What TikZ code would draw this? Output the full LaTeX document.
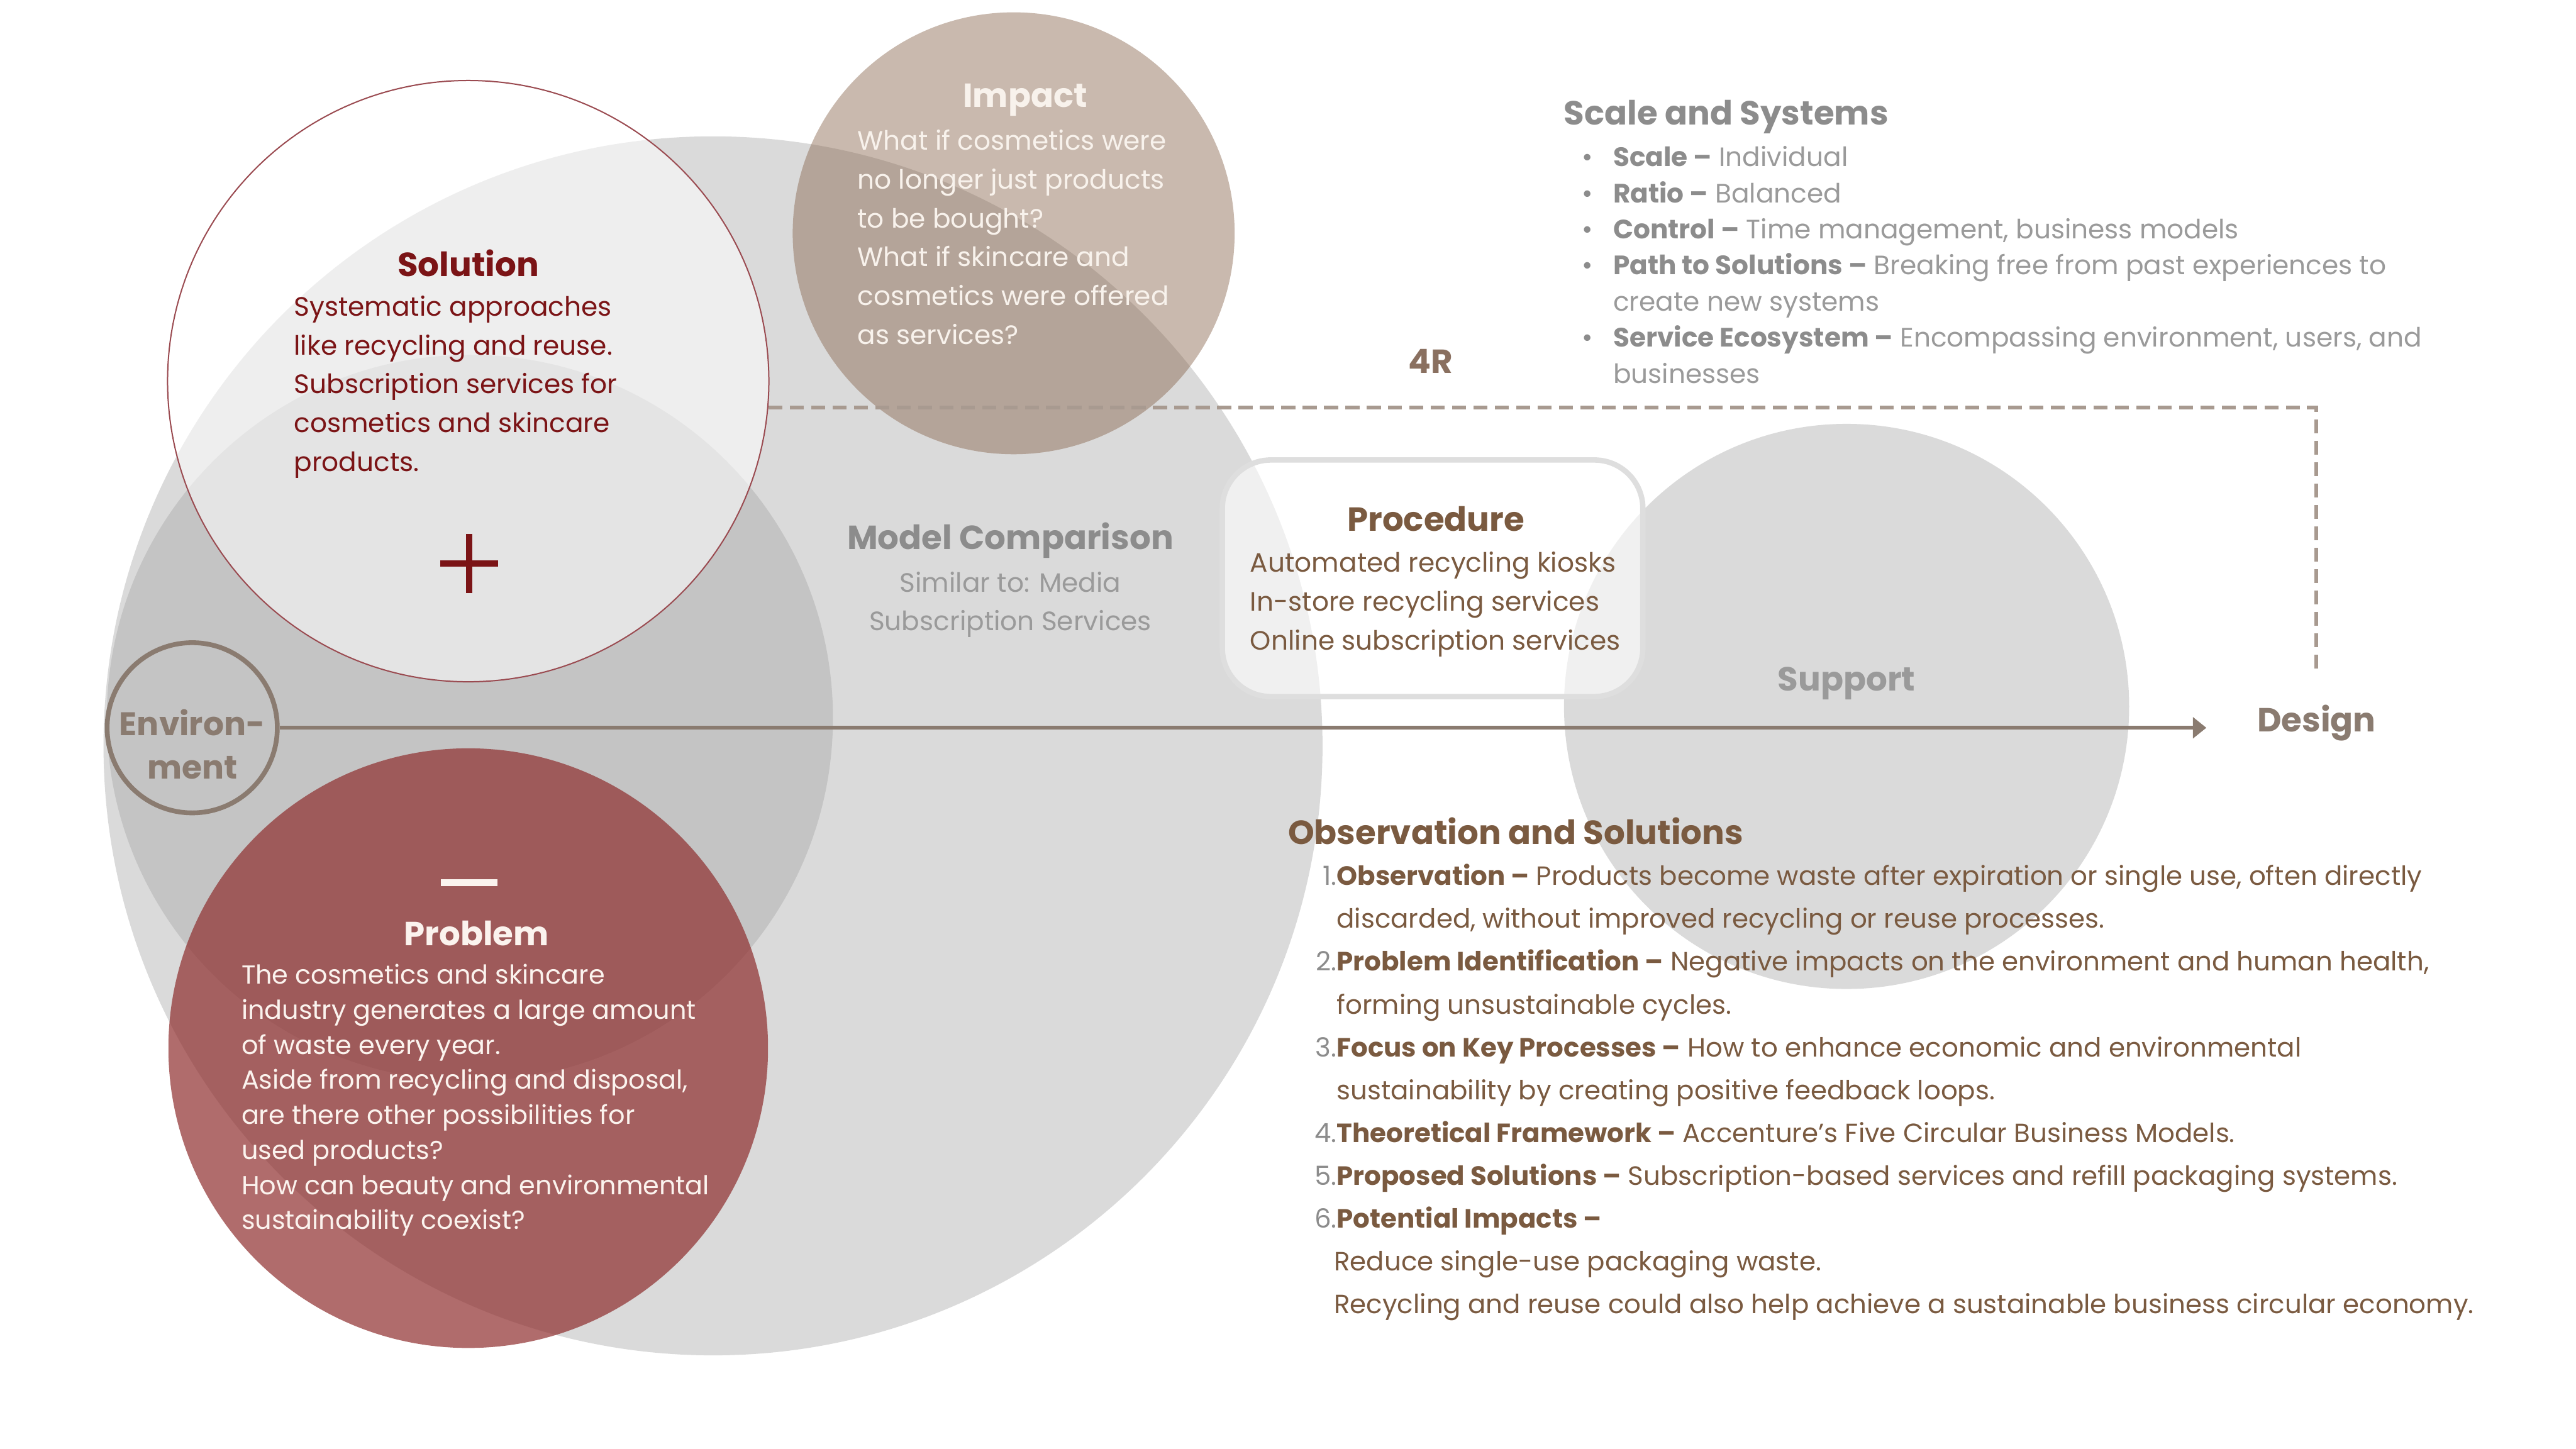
\documentclass[tikz,border=0pt]{standalone}
\usepackage{fontspec}
\setmainfont{Poppins}
\usetikzlibrary{arrows.meta}
\definecolor{lgray}{HTML}{DADADA}
\definecolor{mgray}{HTML}{C4C4C4}
\definecolor{tancol}{RGB}{135,100,75}
\definecolor{probcol}{RGB}{142,45,45}
\definecolor{solred}{HTML}{7B1416}
\definecolor{solborder}{HTML}{9A4A50}
\definecolor{envcol}{HTML}{8A7B70}
\definecolor{dashcol}{HTML}{A89A90}
\definecolor{browncol}{HTML}{7A5A40}
\definecolor{greyt}{HTML}{8C8C8C}
\definecolor{greyl}{HTML}{9A9A9A}
\definecolor{impt}{HTML}{F8F2EC}
\definecolor{probt}{HTML}{FBF3EE}
\definecolor{fourRcol}{HTML}{8A7060}
\definecolor{procborder}{HTML}{DEDEDE}
\newcommand\myfs[2]{\fontsize{#1}{#2}\selectfont}
\begin{document}
\begin{tikzpicture}[x=0.032143cm,y=-0.032143cm,
  disc/.style={circle,inner sep=0pt,minimum size=#1*0.032143cm},
  txt/.style={inner sep=0pt,outer sep=0pt},
  body/.style={txt,align=left,anchor=north west,font=\myfs{14.8}{21.6}},
  head/.style={txt,font=\bfseries\myfs{18.6}{22}},
  dashline/.style={dashcol,line width=2pt,dash pattern=on 7.8pt off 4.1pt},
  conn/.style={envcol,line width=2.1pt}
]
\useasboundingbox (0,0) rectangle (1568,882);
% background circles
\node[disc=742,fill=lgray] (bigc) at (434,454) {};
\node[disc=442,fill=mgray] (midc) at (286,437) {};
\node[disc=344,fill=lgray] (supc) at (1124,430) {};
\node[disc=269,fill=tancol,fill opacity=0.45] (impc) at (617,142) {};
\node[disc=366,fill=white,fill opacity=0.55,draw=solborder,line width=0.7pt] (solc) at (285,232) {};
\node[disc=365,fill=probcol,fill opacity=0.7] (probc) at (285,638) {};
\node[disc=103.6,draw=envcol,line width=2.65pt] (envc) at (117,443) {};
% connectors
\coordinate (arrend) at (1343,443);
\draw[conn,-{Triangle[length=7.5pt,width=11.5pt]}] (envc.east) -- (arrend);
\coordinate (dend) at (1410,410);
\draw[dashline] (solc.-5.2) -| (dend);
% procedure box
\node[draw=procborder,line width=3pt,fill=white,fill opacity=0.6,rounded corners=27pt,
  minimum width=256*0.032143cm,minimum height=144*0.032143cm,inner sep=0pt] (procbox) at (872,352) {};
% plus and minus
\draw[solred,line width=3.7pt] (268,343) -- (303,343) (285.5,325) -- (285.5,361);
\draw[probt,line width=4pt] (268.5,537.3) -- (302.7,537.3);
% texts
\node[head,text=impt] (impT) at (624,61) {Impact};
\node[body,text=impt] (impB) at (522,79) {What if cosmetics were\\no longer just products\\to be bought?\\What if skincare and\\cosmetics were offered\\as services?};
\node[head,text=solred] (solT) at (285,160) {Solution};
\node[body,text=solred] (solB) at (179,180) {Systematic approaches\\like recycling and reuse.\\Subscription services for\\cosmetics and skincare\\products.};
\node[head,text=greyt] (mcT) at (615,329) {Model Comparison};
\node[body,anchor=north,align=center,text=greyl] (mcB) at (615,348) {Similar to: Media\\Subscription Services};
\node[head,text=browncol] (procT) at (874,316) {Procedure};
\node[body,text=browncol] (procB) at (761,336) {Automated recycling kiosks\\In-store recycling services\\Online subscription services};
\node[head,text=greyl] (supT) at (1124,416) {Support};
\node[head,text=envcol] (desT) at (1410,440) {Design};
\node[head,text=fourRcol] (fourR) at (871,220) {4R};
\node[head,anchor=west,text=greyt] (scT) at (952,71) {Scale and Systems};
\node[body,text=greyl,font=\myfs{14.8}{20.1}] (scL) at (963,89) {%
\makebox[17.3pt][l]{\textcolor{greyt}{\textbullet}}\textcolor{greyt}{\textbf{Scale –}} Individual\\
\makebox[17.3pt][l]{\textcolor{greyt}{\textbullet}}\textcolor{greyt}{\textbf{Ratio –}} Balanced\\
\makebox[17.3pt][l]{\textcolor{greyt}{\textbullet}}\textcolor{greyt}{\textbf{Control –}} Time management, business models\\
\makebox[17.3pt][l]{\textcolor{greyt}{\textbullet}}\textcolor{greyt}{\textbf{Path to Solutions –}} Breaking free from past experiences to\\
\hspace*{17.3pt}create new systems\\
\makebox[17.3pt][l]{\textcolor{greyt}{\textbullet}}\textcolor{greyt}{\textbf{Service Ecosystem –}} Encompassing environment, users, and\\
\hspace*{17.3pt}businesses};
\node[head,anchor=west,text=browncol] (obT) at (784,506) {Observation and Solutions};
\node[body,text=browncol,font=\myfs{14.7}{23.85}] (obL) at (800,526) {%
\makebox[12.5pt][r]{\textcolor{greyt}{1.}}\textbf{Observation –} Products become waste after expiration or single use, often directly\\
\hspace*{12.5pt}discarded, without improved recycling or reuse processes.\\
\makebox[12.5pt][r]{\textcolor{greyt}{2.}}\textbf{Problem Identification –} Negative impacts on the environment and human health,\\
\hspace*{12.5pt}forming unsustainable cycles.\\
\makebox[12.5pt][r]{\textcolor{greyt}{3.}}\textbf{Focus on Key Processes –} How to enhance economic and environmental\\
\hspace*{12.5pt}sustainability by creating positive feedback loops.\\
\makebox[12.5pt][r]{\textcolor{greyt}{4.}}\textbf{Theoretical Framework –} Accenture's Five Circular Business Models.\\
\makebox[12.5pt][r]{\textcolor{greyt}{5.}}\textbf{Proposed Solutions –} Subscription-based services and refill packaging systems.\\
\makebox[12.5pt][r]{\textcolor{greyt}{6.}}\textbf{Potential Impacts –}\\
\hspace*{11pt}Reduce single-use packaging waste.\\
\hspace*{11pt}Recycling and reuse could also help achieve a sustainable business circular economy.};
\node[head,text=probt] (probT) at (290,568) {Problem};
\node[body,text=probt,font=\myfs{14.5}{19.5}] (probB) at (147,587) {The cosmetics and skincare\\industry generates a large amount\\of waste every year.\\Aside from recycling and disposal,\\are there other possibilities for\\used products?\\How can beauty and environmental\\sustainability coexist?};
\node[txt,align=center,text=envcol,font=\bfseries\myfs{18.2}{24}] (envT) at (117,453) {Environ-\\ment};
\end{tikzpicture}
\end{document}
